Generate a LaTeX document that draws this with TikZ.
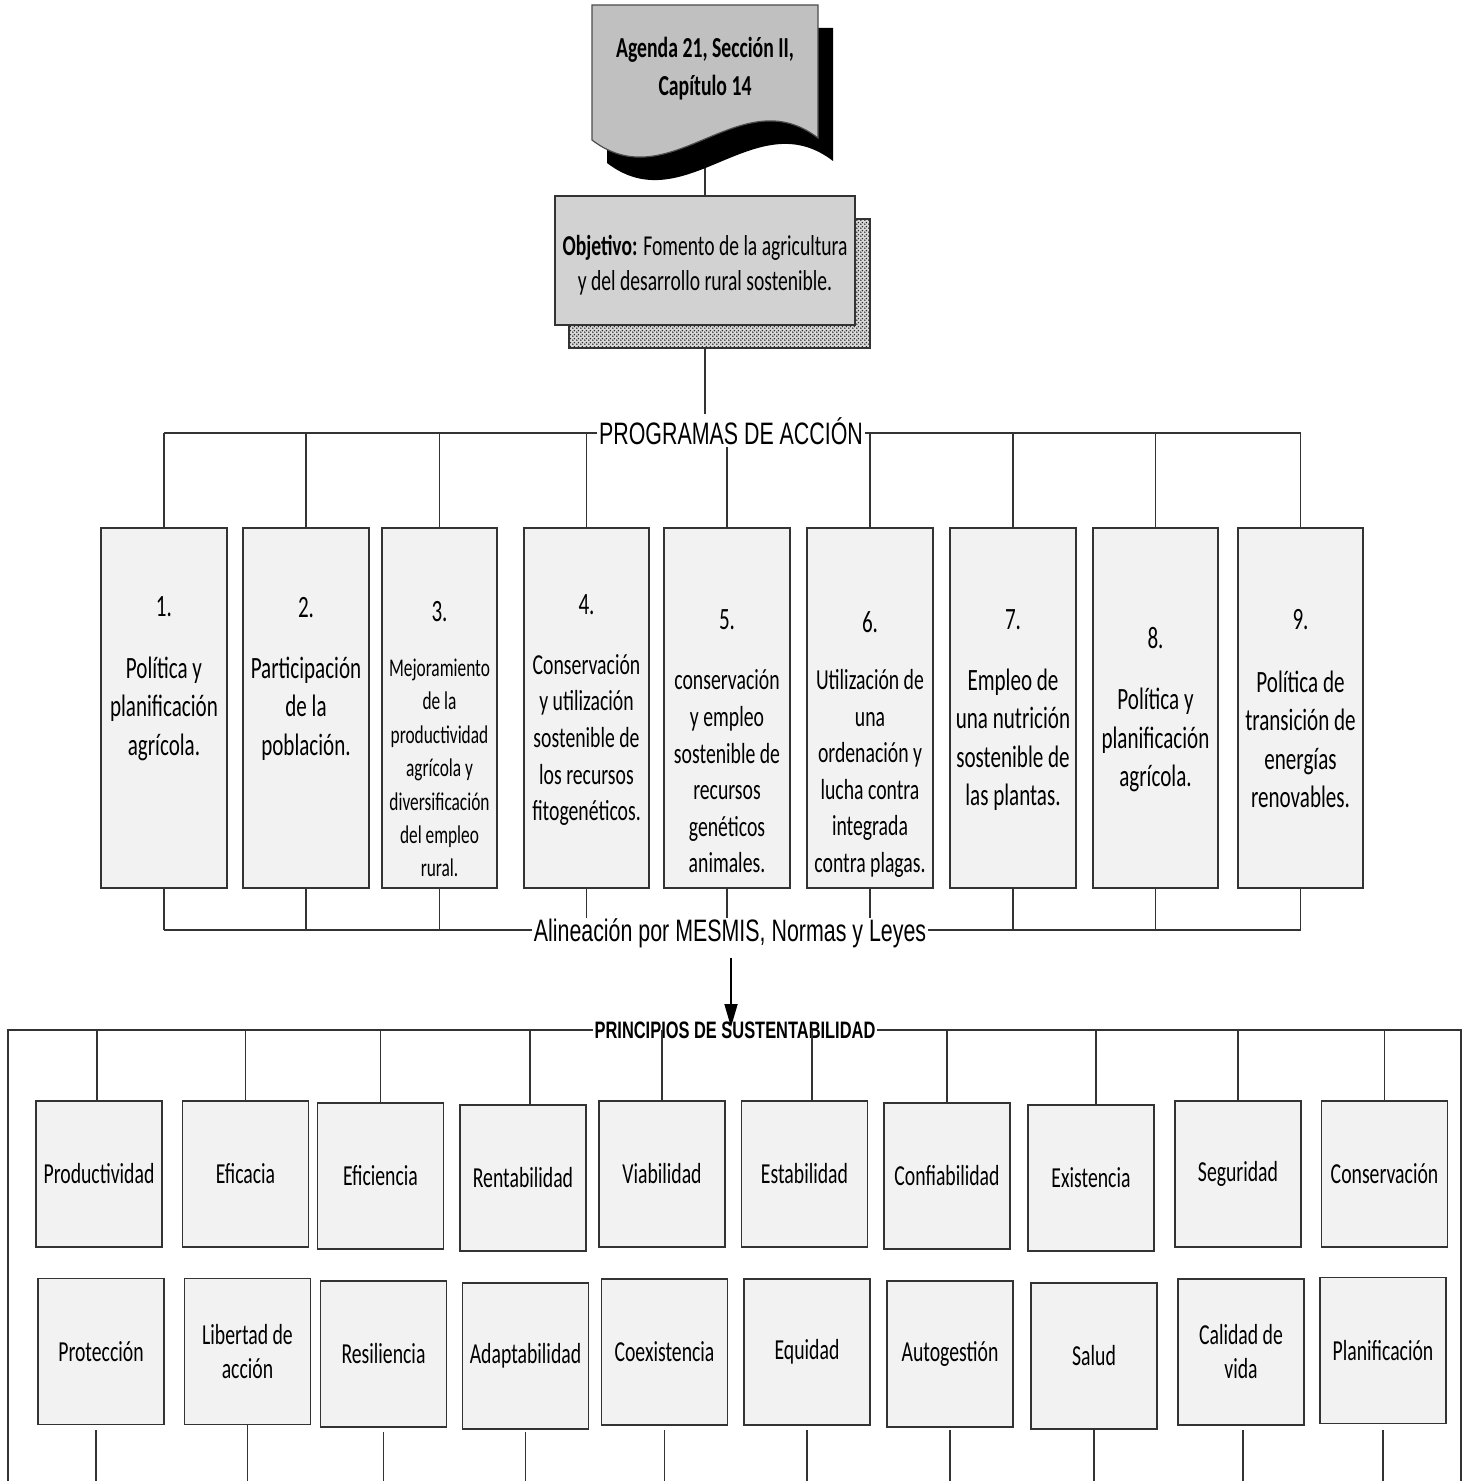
\documentclass[tikz,border=0pt]{standalone}
\usepackage{fontspec}
\newfontfamily\calib[FakeStretch=0.68]{Carlito}
\newfontfamily\arialn[FakeStretch=0.69]{Liberation Sans}
\usetikzlibrary{arrows.meta,patterns.meta}

\definecolor{boxfill}{HTML}{F2F2F2}
\definecolor{docgray}{HTML}{C0C0C0}
\definecolor{objgray}{HTML}{D2D2D2}
\definecolor{linecol}{HTML}{333333}

% fine dotted texture for the raised shadow
\tikzdeclarepattern{
  name=fine dots,
  type=uncolored,
  bounding box={(0pt,0pt) and (2pt,2pt)},
  tile size={(2pt,2pt)},
  code={
    \pgfpathcircle{\pgfpoint{0.5pt}{0.5pt}}{0.5pt}
    \pgfpathcircle{\pgfpoint{1.5pt}{1.5pt}}{0.5pt}
    \pgfusepath{fill}
  }
}

\begin{document}
\begin{tikzpicture}[x=0.5pt,y=-0.5pt,
  conn/.style={draw=linecol, line width=0.55pt},
  pbox/.style={draw=linecol, line width=0.75pt, fill=boxfill,
    minimum width=63pt, minimum height=180pt, inner sep=0pt},
  ptxt/.style={font=\calib\fontsize{15.5}{19.25}\selectfont, align=center, inner sep=0pt},
  ptxtm/.style={font=\calib\fontsize{14.5}{18.3}\selectfont, align=center, inner sep=0pt},
  ptxts/.style={font=\calib\fontsize{12.75}{16.7}\selectfont, align=center, inner sep=0pt},
  qbox/.style={draw=linecol, line width=0.75pt, fill=boxfill,
    minimum width=63pt, minimum height=73pt, inner sep=0pt,
    font=\calib\fontsize{14.5}{17}\selectfont, align=center},
  lbl/.style={font=\arialn\fontsize{15.5}{18}\selectfont, fill=white,
    inner xsep=1pt, inner ysep=1.5pt, anchor=base},
]
\useasboundingbox (0,0) rectangle (1467,1481);

% ---------- source document ----------
\coordinate (docfoot) at (705,150);
\node[inner sep=0pt] (objtop) at (705,196) {};
\draw[conn] (docfoot) -- (objtop);

\path[fill=black, shift={(15,23)}]
  (592,5) -- (818,5) -- (818,138) .. controls (740,78) and (670,200) .. (592,140) -- cycle;
\path[draw=black!70, line width=0.6pt, fill=docgray]
  (592,5) -- (818,5) -- (818,138) .. controls (740,78) and (670,200) .. (592,140) -- cycle;
\node[font=\calib\bfseries\fontsize{14.5}{19}\selectfont, align=center, inner sep=0pt]
  (doc) at (705,68.5) {Agenda 21, Sección II,\\Capítulo 14};

% ---------- objective ----------
\node[lbl] (prog) at (731,444) {PROGRAMAS DE ACCIÓN};
\node[minimum width=150pt, minimum height=64.5pt, inner sep=0pt] (obj) at (705,260.5) {};
\draw[conn] (obj.south) -- (obj.south |- prog.north);
\path[fill=gray!30] (569,219) rectangle (870,348);
\path[pattern=fine dots, pattern color=black!85] (569,219) rectangle (870,348);
\draw[line width=0.6pt, draw=linecol] (569,219) rectangle (870,348);
\node[draw=linecol, line width=0.75pt, fill=objgray, minimum width=150pt, minimum height=64.5pt,
  inner sep=0pt] (objbox) at (obj) {};
\node[align=center, inner sep=0pt, font=\calib\fontsize{14.4}{17.5}\selectfont] (objtext) at (705,265)
  {{\bfseries Objetivo:} Fomento de la agricultura\\y del desarrollo rural sostenible.};

% ---------- action programmes ----------
\node[pbox] (p1) at (164,708) {};
\node[pbox] (p2) at (306,708) {};
\node[pbox, minimum width=57.5pt] (p3) at (439.5,708) {};
\node[pbox, minimum width=62.5pt] (p4) at (586.5,708) {};
\node[pbox] (p5) at (727,708) {};
\node[pbox] (p6) at (870,708) {};
\node[pbox] (p7) at (1013,708) {};
\node[pbox, minimum width=62.5pt] (p8) at (1155.5,708) {};
\node[pbox, minimum width=62.5pt] (p9) at (1300.5,708) {};

\node[ptxt] at (164,607) {1.};
\node[ptxt] at (164,708.5) {Política y\\planificación\\agrícola.};
\node[ptxt] at (306,608) {2.};
\node[ptxt] at (306,708.5) {Participación\\de la\\población.};
\node[ptxt] at (439.5,612) {3.};
\node[ptxts] at (439.5,768) {Mejoramiento\\de la\\productividad\\agrícola y\\diversificación\\del empleo\\rural.};
\node[ptxt] at (586.5,605) {4.};
\node[ptxtm] at (586.5,740) {Conservación\\y utilización\\sostenible de\\los recursos\\fitogenéticos.};
\node[ptxt] at (727,620) {5.};
\node[ptxtm] at (727,771.5) {conservación\\y empleo\\sostenible de\\recursos\\genéticos\\animales.};
\node[ptxt] at (870,622) {6.};
\node[ptxtm] at (870,773.5) {Utilización de\\una\\ordenación y\\lucha contra\\integrada\\contra plagas.};
\node[ptxt] at (1013,620) {7.};
\node[ptxt] at (1013,739.5) {Empleo de\\una nutrición\\sostenible de\\las plantas.};
\node[ptxt] at (1155.5,638) {8.};
\node[ptxt] at (1155.5,740) {Política y\\planificación\\agrícola.};
\node[ptxt] at (1300.5,620) {9.};
\node[ptxt] at (1300.5,739.5) {Política de\\transición de\\energías\\renovables.};

% upper bus
\coordinate (topbus) at (0,433);
\draw[conn] (p1.north |- topbus) -- (p9.north |- topbus);
\foreach \i in {1,...,9} \draw[conn] (p\i.north) -- (p\i.north |- topbus);
\node[lbl] at (prog.base) {PROGRAMAS DE ACCIÓN};

% lower bus
\coordinate (botbus) at (0,930);
\draw[conn] (p1.south |- botbus) -- (p9.south |- botbus);
\foreach \i in {1,...,9} \draw[conn] (p\i.south) -- (p\i.south |- botbus);
\node[lbl, inner ysep=0pt] (align) at (730,941) {Alineación por MESMIS, Normas y Leyes};

% ---------- sustainability principles ----------
\coordinate (tl) at (8,1030);
\coordinate (tr) at (1461,1030);
\coordinate (fl) at (8,1481);
\coordinate (fr) at (1461,1481);
\coordinate (bottomedge) at (0,1481);
\draw[conn] (fl) -- (tl) -- (tr) -- (fr);
\node[lbl, inner ysep=0pt, font=\arialn\bfseries\fontsize{11.9}{14}\selectfont] (princ) at (735,1038.5)
  {PRINCIPIOS DE SUSTENTABILIDAD};

\node[qbox] (a1) at (99,1174) {Productividad};
\node[qbox] (a2) at (245.5,1174) {Eficacia};
\node[qbox] (a3) at (380.5,1176) {Eficiencia};
\node[qbox] (a4) at (523,1178) {Rentabilidad};
\node[qbox] (a5) at (662,1174) {Viabilidad};
\node[qbox] (a6) at (804.5,1174) {Estabilidad};
\node[qbox] (a7) at (947,1176) {Confiabilidad};
\node[qbox] (a8) at (1091,1178) {Existencia};
\node[qbox] (a9) at (1238,1174) {Seguridad};
\node[qbox] (a10) at (1384.5,1174) {Conservación};

\node[qbox] (b1) at (101,1351.5) {Protección};
\node[qbox] (b2) at (247.5,1351.5) {Libertad de\\acción};
\node[qbox] (b3) at (383.5,1354) {Resiliencia};
\node[qbox] (b4) at (525.5,1356) {Adaptabilidad};
\node[qbox] (b5) at (664.5,1352) {Coexistencia};
\node[qbox] (b6) at (807,1352) {Equidad};
\node[qbox] (b7) at (950,1354) {Autogestión};
\node[qbox] (b8) at (1094,1356) {Salud};
\node[qbox] (b9) at (1241,1352) {Calidad de\\vida};
\node[qbox] (b10) at (1383,1350.5) {Planificación};

% drops from the principles bus to the first row
\foreach \i/\dx in {1/-1pt,2/0pt,3/0pt,4/3.5pt,5/0pt,6/3.75pt,7/0pt,8/2.5pt,9/0pt,10/0pt}
  \draw[conn] ([xshift=\dx]a\i.north) -- ([xshift=\dx]a\i.north |- tl);

% drops from the second row to the lower edge
\foreach \i/\dx/\gap in {1/-2.5pt/2.5pt,2/0pt/0pt,3/0pt/2pt,4/0pt/1pt,5/0pt/2pt,6/0pt/2pt,7/0pt/1pt,8/0pt/0pt,9/1pt/2pt,10/0pt/3pt}
  \draw[conn] ([xshift=\dx,yshift=-\gap]b\i.south) -- ([xshift=\dx]b\i.south |- bottomedge);

% flow arrow into the principles
\coordinate (arrS) at (731,958);
\coordinate (arrE) at (731,1027);
\draw[line width=0.85pt, -{Triangle[length=11.5pt,width=6.5pt]}] (arrS) -- (arrE);
\end{tikzpicture}
\end{document}
